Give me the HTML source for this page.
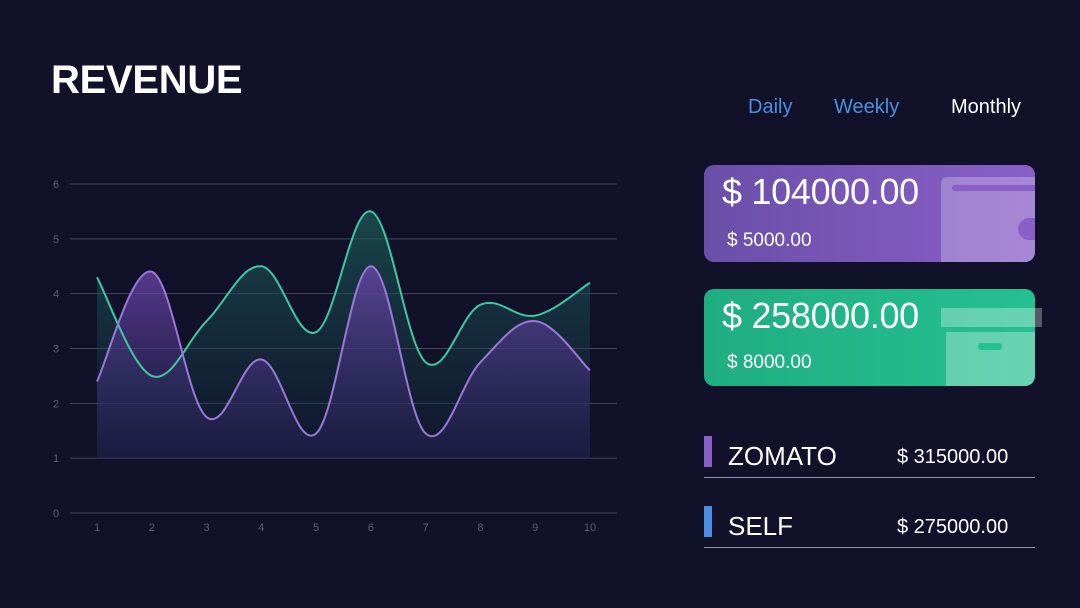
<!DOCTYPE html>
<html><head><meta charset="utf-8"><style>
body{margin:0;width:1080px;height:608px;background:#11112a;overflow:hidden;font-family:"Liberation Sans",sans-serif;position:relative}
.a{position:absolute;white-space:nowrap}
</style></head><body>
<div class="a" style="left:51px;top:58px;font-size:40px;font-weight:bold;color:#fff;letter-spacing:-0.3px">REVENUE</div>
<div class="a" style="left:748px;top:96px;font-size:20px;color:#4a8fe0">Daily</div>
<div class="a" style="left:834px;top:96px;font-size:20px;color:#4a8fe0">Weekly</div>
<div class="a" style="left:951px;top:96px;font-size:20px;color:#fff">Monthly</div>

<svg class="a" style="left:0;top:0" width="680" height="608" id="ch">
<defs>
<linearGradient id="gt" x1="0" y1="0" x2="0" y2="1"><stop offset="0" stop-color="#1d5a55" stop-opacity=".75"/><stop offset="1" stop-color="#123040" stop-opacity=".2"/></linearGradient>
<linearGradient id="gp" x1="0" y1="0" x2="0" y2="1"><stop offset="0" stop-color="#6a45a8" stop-opacity=".8"/><stop offset="1" stop-color="#2a2560" stop-opacity=".35"/></linearGradient>
</defs>
<g id="grid"></g>
<path id="ft" fill="url(#gt)"/>
<path id="fp" fill="url(#gp)"/>
<path id="lt" fill="none" stroke="#3ec8a0" stroke-width="2"/>
<path id="lp" fill="none" stroke="#9a78d8" stroke-width="2"/>
</svg>

<div class="a" style="left:704px;top:165px;width:331px;height:97px;border-radius:10px;background:linear-gradient(90deg,#6a4fa8,#8a5fc8);overflow:hidden">
 <div class="a" style="left:237px;top:12px;width:110px;height:90px;border-radius:6px;background:rgba(255,255,255,.25)"></div>
 <div class="a" style="left:248px;top:20px;width:90px;height:6px;border-radius:3px;background:#8a5fc8"></div>
 <div class="a" style="left:314px;top:53px;width:30px;height:22px;border-radius:11px;background:#8a5fc8"></div>
 <div class="a" style="left:18px;top:6px;font-size:36px;color:#fff;letter-spacing:-0.3px">$ 104000.00</div>
 <div class="a" style="left:23px;top:65px;font-size:19px;color:#fff">$ 5000.00</div>
</div>
<div class="a" style="left:704px;top:289px;width:331px;height:97px;border-radius:10px;background:linear-gradient(90deg,#1fae80,#25c090);overflow:hidden">
 <div class="a" style="left:242px;top:43px;width:90px;height:54px;background:rgba(255,255,255,.3)"></div>
 <div class="a" style="left:274px;top:54px;width:24px;height:7px;border-radius:3px;background:#25c090"></div>
 <div class="a" style="left:18px;top:6px;font-size:36px;color:#fff;letter-spacing:-0.3px">$ 258000.00</div>
 <div class="a" style="left:23px;top:63px;font-size:19px;color:#fff">$ 8000.00</div>
</div>
<div class="a" style="left:941px;top:308px;width:101px;height:19px;background:rgba(255,255,255,.3)"></div>

<div class="a" style="left:704px;top:436px;width:8px;height:31px;background:#8a5fc8"></div>
<div class="a" style="left:728px;top:441px;font-size:26px;color:#fff">ZOMATO</div>
<div class="a" style="left:897px;top:446px;font-size:20px;color:#fff">$ 315000.00</div>
<div class="a" style="left:704px;top:477px;width:331px;height:1px;background:#9090b0"></div>
<div class="a" style="left:704px;top:506px;width:8px;height:31px;background:#4a8fe0"></div>
<div class="a" style="left:728px;top:511px;font-size:26px;color:#fff">SELF</div>
<div class="a" style="left:897px;top:516px;font-size:20px;color:#fff">$ 275000.00</div>
<div class="a" style="left:704px;top:547px;width:331px;height:1px;background:#9090b0"></div>

<script>
var X=i=>97+(i)*54.78, Y=v=>513-v*54.83;
var g=document.getElementById('grid'),s='';
for(var v=0;v<=6;v++){s+='<line x1="70" x2="617" y1="'+Y(v)+'" y2="'+Y(v)+'" stroke="#44445f" stroke-width="1"/>';
s+='<text x="56" y="'+(Y(v)+4)+'" font-size="11" fill="#5c5c75" text-anchor="middle" font-family="Liberation Sans">'+v+'</text>';}
for(var i=0;i<10;i++)s+='<text x="'+X(i)+'" y="531" font-size="11" fill="#5c5c75" text-anchor="middle" font-family="Liberation Sans">'+(i+1)+'</text>';
g.innerHTML=s;
function path(d){var p=d.map((v,i)=>[X(i),Y(v)]),str='M'+p[0][0]+','+p[0][1];
for(var i=0;i<p.length-1;i++){var p0=p[i-1]||p[i],p1=p[i],p2=p[i+1],p3=p[i+2]||p2,t=0.18;
str+=' C'+(p1[0]+(p2[0]-p0[0])*t)+','+(p1[1]+(p2[1]-p0[1])*t)+' '+(p2[0]-(p3[0]-p1[0])*t)+','+(p2[1]-(p3[1]-p1[1])*t)+' '+p2[0]+','+p2[1];}
return str;}
var T=[4.3,2.5,3.5,4.5,3.3,5.5,2.75,3.8,3.6,4.2],P=[2.4,4.4,1.75,2.8,1.45,4.5,1.45,2.75,3.5,2.6];
var b=' L'+X(9)+','+Y(1)+' L'+X(0)+','+Y(1)+' Z';
document.getElementById('lt').setAttribute('d',path(T));
document.getElementById('lp').setAttribute('d',path(P));
document.getElementById('ft').setAttribute('d',path(T)+b);
document.getElementById('fp').setAttribute('d',path(P)+b);
</script>
</body></html>
